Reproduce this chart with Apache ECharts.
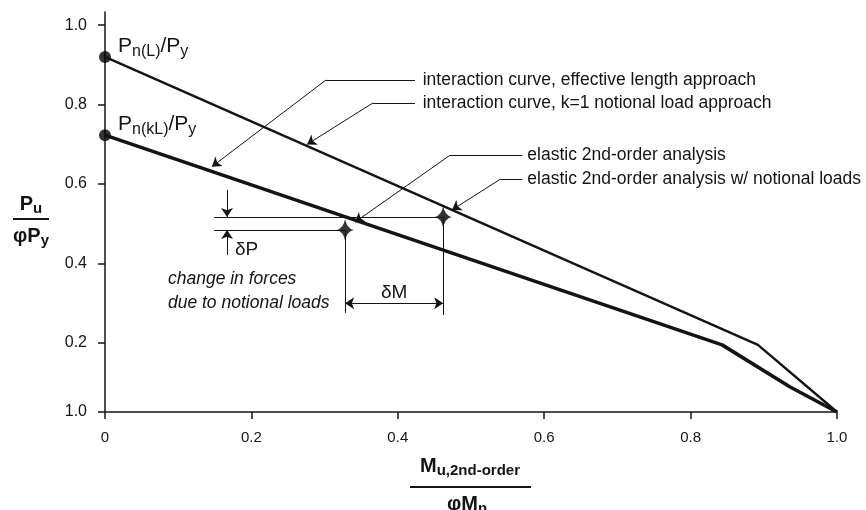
<!DOCTYPE html>
<html><head><meta charset="utf-8">
<script src="https://cdn.jsdelivr.net/npm/echarts@6/dist/echarts.min.js"></script>
<style>html,body{margin:0;padding:0;background:#fff}#c{width:866px;height:510px}</style>
</head><body><div id="c"></div>
<script>
// ---- data ----
const xTicks = [0, 0.2, 0.4, 0.6, 0.8, 1.0];
const xTickLabels = ['0', '0.2', '0.4', '0.6', '0.8', '1.0'];
const yTicks = [0.026, 0.2, 0.4, 0.6, 0.8, 1.0];
const yTickLabels = ['1.0', '0.2', '0.4', '0.6', '0.8', '1.0'];
// interaction curve, k=1 notional load approach (upper)
const notionalCurve = [[0, 0.92], [0.892, 0.195], [1.0, 0.026]];
// interaction curve, effective length approach (lower)
const effLengthCurve = [[0, 0.723], [0.843, 0.195], [0.936, 0.089], [1.0, 0.026]];
const elasticPt = [0.328, 0.484];
const elasticNotionalPt = [0.462, 0.517];
const curveLabels = [
  'interaction curve, effective length approach',
  'interaction curve, k=1 notional load approach',
  'elastic 2nd-order analysis',
  'elastic 2nd-order analysis w/ notional loads'
];

const INK = '#141414';
const FONT = '"Liberation Sans", Arial, Helvetica, sans-serif';

function interp(curve, x) {
  for (let i = 0; i < curve.length - 1; i++) {
    const [x0, y0] = curve[i], [x1, y1] = curve[i + 1];
    if (x >= x0 && x <= x1) return y0 + (y1 - y0) * (x - x0) / (x1 - x0);
  }
  return curve[curve.length - 1][1];
}
function tickIndex(arr, v) {
  let best = 0;
  arr.forEach((t, i) => { if (Math.abs(t - v) < Math.abs(arr[best] - v)) best = i; });
  return best;
}

// annotation layout (in axis units)
const leaders = [
  { text: curveLabels[0], ty: 0.862, tx: 0.434, hx0: 0.4235, hx1: 0.302, tip: [0.146, interp(effLengthCurve, 0.146) + 0.012] },
  { text: curveLabels[1], ty: 0.804, tx: 0.434, hx0: 0.4235, hx1: 0.366, tip: [0.276, interp(notionalCurve, 0.276) + 0.004] },
  { text: curveLabels[2], ty: 0.672, tx: 0.577, hx0: 0.570, hx1: 0.471, tip: [elasticPt[0] + 0.0135, elasticPt[1] + 0.020] },
  { text: curveLabels[3], ty: 0.612, tx: 0.577, hx0: 0.570, hx1: 0.540, tip: [elasticNotionalPt[0] + 0.012, elasticNotionalPt[1] + 0.0176] }
];
const mk = [];
function seg(a, b, s0, s1) { mk.push([{ coord: a, symbol: s0 || 'none' }, { coord: b, symbol: s1 || 'none' }]); }
leaders.forEach(l => {
  seg([l.hx0, l.ty], [l.hx1, l.ty]);
  seg([l.hx1, l.ty], l.tip, 'none', 'arrow');
});
const dimX = 0.1667, extX0 = 0.149, dmY = 0.300;
seg([extX0, elasticNotionalPt[1]], elasticNotionalPt);
seg([extX0, elasticPt[1]], elasticPt);
seg([dimX, 0.585], [dimX, elasticNotionalPt[1]], 'none', 'arrow');
seg([dimX, 0.4214], [dimX, elasticPt[1]], 'none', 'arrow');
seg(elasticPt, [elasticPt[0], 0.2755]);
seg(elasticNotionalPt, [elasticNotionalPt[0], 0.270]);
seg([elasticPt[0], dmY], [elasticNotionalPt[0], dmY], 'arrow', 'arrow');

const chart = echarts.init(document.getElementById('c'));
const option = {
  animation: false,
  backgroundColor: '#fff',
  grid: { left: 105, right: 29, top: 12, bottom: 98 },
  xAxis: {
    type: 'value', min: 0, max: 1.0, interval: 0.2,
    axisLine: { lineStyle: { color: INK, width: 1.5 } },
    axisTick: { length: 7, lineStyle: { color: INK, width: 1.5 } },
    axisLabel: { margin: 18, fontSize: 15, color: INK, fontFamily: FONT,
      formatter: v => xTickLabels[tickIndex(xTicks, v)] },
    splitLine: { show: false }
  },
  yAxis: {
    type: 'value', min: 0.026, max: 1.033,
    axisLine: { show: true, lineStyle: { color: INK, width: 1.5 } },
    axisTick: { show: true, length: 7, customValues: yTicks, lineStyle: { color: INK, width: 1.5 } },
    axisLabel: { margin: 18, fontSize: 16, color: INK, fontFamily: FONT, customValues: yTicks,
      formatter: v => yTickLabels[tickIndex(yTicks, v)] },
    splitLine: { show: false }
  },
  series: [
    { type: 'line', data: notionalCurve, showSymbol: false, lineStyle: { color: INK, width: 2.4 },
      markLine: { silent: true, symbol: ['none', 'none'], symbolSize: 9, animation: false,
        lineStyle: { color: INK, width: 1, type: 'solid' }, label: { show: false },
        emphasis: { disabled: true }, data: mk } },
    { type: 'line', data: effLengthCurve, showSymbol: false, lineStyle: { color: INK, width: 3.6 } },
    { type: 'scatter', data: [[0, notionalCurve[0][1]], [0, effLengthCurve[0][1]]], symbolSize: 12,
      clip: false, itemStyle: { color: '#000' } },
    { type: 'scatter', data: [elasticPt, elasticNotionalPt], symbolSize: [17, 22],
      symbol: 'path://M0,-10 Q1.5,-1.5 8,0 Q1.5,1.5 0,10 Q-1.5,1.5 -8,0 Q-1.5,-1.5 0,-10 Z',
      itemStyle: { color: '#000' } }
  ]
};
chart.setOption(option);

const P = (x, y) => chart.convertToPixel({ xAxisIndex: 0, yAxisIndex: 0 }, [x, y]);
const g = [];
function txt(x, y, text, opt) {
  g.push({ type: 'text', x, y, silent: true, style: Object.assign({ text, fill: INK, font: '17.5px ' + FONT,
    textAlign: 'left', textVerticalAlign: 'middle' }, opt || {}) });
}
leaders.forEach(l => { const p = P(l.tx, l.ty); txt(p[0], p[1], l.text); });

// start point labels
const subRich = {
  m: { fontSize: 21, fontFamily: FONT, lineHeight: 22, verticalAlign: 'top', fill: INK },
  s: { fontSize: 16, fontFamily: FONT, lineHeight: 16, verticalAlign: 'top', padding: [8, 0, 0, 0], fill: INK }
};
function richLabel(x, y, parts, rich, align) {
  g.push({ type: 'text', x, y, silent: true, style: { text: parts, rich, fill: INK,
    textAlign: align || 'left', textVerticalAlign: 'top' } });
}
richLabel(118, 36, '{m|P}{s|n(L)}{m|/P}{s|y}', subRich);
richLabel(118, 114, '{m|P}{s|n(kL)}{m|/P}{s|y}', subRich);

// dimension texts
let p = P(0.1776, 0.434); txt(p[0], p[1], 'δP', { font: '19px ' + FONT });
p = P((elasticPt[0] + elasticNotionalPt[0]) / 2, 0.327); txt(p[0], p[1], 'δM', { font: '19px ' + FONT, textAlign: 'center' });
p = P(0.086, 0.361); txt(p[0], p[1], 'change in forces', { font: 'italic 17.5px ' + FONT });
p = P(0.086, 0.3006); txt(p[0], p[1], 'due to notional loads', { font: 'italic 17.5px ' + FONT });

// axis titles
const boldRich = {
  m: { fontSize: 20, fontWeight: 'bold', fontFamily: FONT, lineHeight: 21, verticalAlign: 'top', fill: INK },
  s: { fontSize: 15, fontWeight: 'bold', fontFamily: FONT, lineHeight: 15, verticalAlign: 'top', padding: [7, 0, 0, 0], fill: INK }
};
richLabel(31, 194, '{m|P}{s|u}', boldRich, 'center');
g.push({ type: 'line', silent: true, shape: { x1: 13, y1: 219, x2: 49, y2: 219 }, style: { stroke: INK, lineWidth: 1.8 } });
richLabel(31, 226, '{m|φP}{s|y}', boldRich, 'center');

richLabel(470, 456, '{m|M}{s|u,2nd-order}', boldRich, 'center');
g.push({ type: 'line', silent: true, shape: { x1: 410, y1: 487, x2: 531, y2: 487 }, style: { stroke: INK, lineWidth: 1.8 } });
richLabel(467, 494, '{m|φM}{s|n}', boldRich, 'center');

chart.setOption({ graphic: g });
</script>
</body></html>
